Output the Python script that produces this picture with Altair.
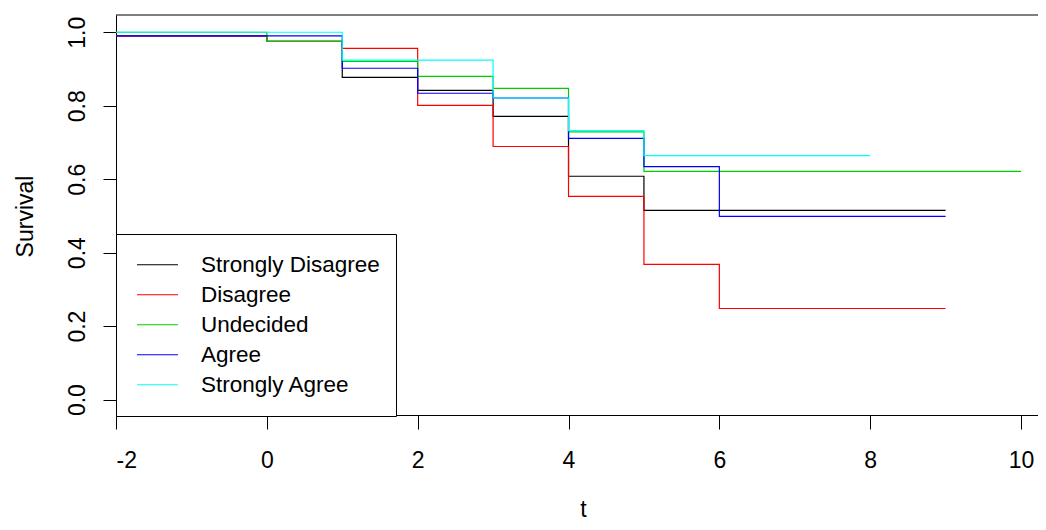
import altair as alt
import pandas as pd

groups = ["Strongly Disagree", "Disagree", "Undecided", "Agree", "Strongly Agree"]
colors = ["#000000", "#FF0000", "#00CD00", "#0000FF", "#00FFFF"]

sd_t = [-2, 0, 1, 2, 3, 4, 5, 9]
sd_s = [0.990, 0.975, 0.877, 0.842, 0.771, 0.608, 0.515, 0.515]

dis_t = [-2, 0, 1, 2, 3, 4, 5, 6, 9]
dis_s = [0.990, 0.975, 0.956, 0.801, 0.689, 0.553, 0.368, 0.248, 0.248]

und_t = [-2, 0, 1, 2, 3, 4, 5, 10]
und_s = [1.000, 0.975, 0.921, 0.880, 0.847, 0.729, 0.621, 0.621]

agr_t = [-2, 1, 2, 3, 4, 5, 6, 9]
agr_s = [0.990, 0.902, 0.834, 0.821, 0.711, 0.634, 0.499, 0.499]

sa_t = [-2, 1, 3, 4, 5, 8]
sa_s = [1.000, 0.924, 0.821, 0.732, 0.664, 0.664]

series = [(sd_t, sd_s), (dis_t, dis_s), (und_t, und_s), (agr_t, agr_s), (sa_t, sa_s)]

FONT = "Liberation Sans"
W = 922
H = 400

x_scale = alt.Scale(domain=[-2, 10.225], nice=False, zero=False)
y_scale = alt.Scale(domain=[-0.042, 1.047], nice=False, zero=False)
color_scale = alt.Scale(domain=groups, range=colors)

layers = []
for i, (g, (ts, ss)) in enumerate(zip(groups, series)):
    df = pd.DataFrame({"t": ts, "Survival": ss, "group": [g] * len(ts)})
    enc = dict(
        x=alt.X("t:Q", scale=x_scale,
                axis=alt.Axis(values=[-2, 0, 2, 4, 6, 8, 10], tickSize=14,
                              labelExpr="'' + datum.value",
                              labelPadding=38, labelBaseline="alphabetic",
                              titleX=467, titleY=101, titleBaseline="alphabetic",
                              titleAlign="center")),
        y=alt.Y("Survival:Q", scale=y_scale,
                axis=alt.Axis(values=[0, 0.2, 0.4, 0.6, 0.8, 1.0], format=".1f",
                              tickSize=13, labelAngle=270, labelAlign="center",
                              labelBaseline="alphabetic", labelPadding=19,
                              titleAngle=270, titleX=-84, titleY=201,
                              titleAlign="center", titleBaseline="alphabetic")),
        color=alt.Color("group:N", scale=color_scale, sort=groups,
                        legend=alt.Legend(title=None, orient="none", legendX=0,
                                          legendY=219, direction="vertical",
                                          symbolType="stroke", symbolSize=1681,
                                          symbolStrokeWidth=1.2, clipHeight=29.5,
                                          rowPadding=0, padding=16, symbolOffset=4,
                                          labelOffset=22, labelFontSize=22.5,
                                          labelFont=FONT, labelColor="#000000",
                                          strokeColor="#000000", fillColor="#FFFFFF",
                                          labelLimit=400)),
    )
    layers.append(
        alt.Chart(df).mark_line(interpolate="step-after", strokeWidth=1.2).encode(**enc)
    )

# top edge of the plot box (the right edge lies outside the picture)
top_edge = alt.Chart(pd.DataFrame({"k": [0]})).mark_rule(
    color="#000000", strokeWidth=1
).encode(x=alt.value(0), x2=alt.value(W), y=alt.value(0))

chart = alt.layer(*layers, top_edge).properties(
    width=W,
    height=H,
    background="#FFFFFF",
    autosize=alt.AutoSizeParams(type="none"),
    padding={"left": 108, "top": 7, "right": 0, "bottom": 107},
).configure_view(
    strokeWidth=0
).configure_axis(
    domain=True, domainColor="#000000", domainWidth=1,
    grid=False, tickColor="#000000", tickWidth=1,
    labelFont=FONT, labelFontSize=23, labelColor="#000000",
    titleFont=FONT, titleFontSize=23, titleColor="#000000", titleFontWeight="normal",
)

chart.save("out.html", embed_options={"renderer": "svg", "actions": False})
